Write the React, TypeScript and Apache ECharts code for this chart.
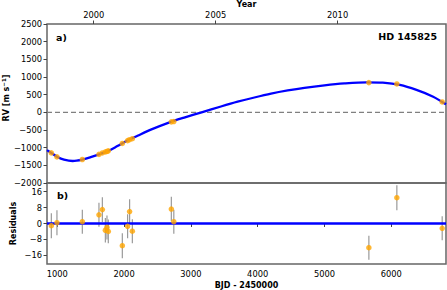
import React, { useEffect, useRef } from "react";
import * as echarts from "echarts";

// RV data (BJD - 2450000, m/s)
const obsDays = [910, 994, 1374, 1623, 1674, 1719, 1743, 1763, 1973, 2052, 2082, 2123, 2707, 2744, 5665, 6084, 6763];
const rvValues = [-1148, -1261, -1335, -1190, -1150, -1120, -1108, -1090, -880, -800, -775, -745, -270, -262, 841, 804, 293];
const residValues = [-1.1, 0.4, 0.9, 4.4, 7.0, -3.4, -2.0, -4.0, -11.2, -1.4, 6.0, -3.9, 7.3, 0.9, -12.2, 13.0, -2.4];
const residErrors = [6.3, 6.3, 6.0, 6.0, 6.2, 6.2, 6.0, 6.0, 6.3, 6.0, 6.2, 6.0, 6.2, 6.0, 6.0, 6.3, 6.0];

// Fitted curve
const curveDays = [845, 910, 1000, 1100, 1230, 1374, 1500, 1623, 1760, 1900, 2050, 2200, 2400, 2700, 2900, 3160, 3450, 3700, 3950, 4200, 4450, 4700, 5000, 5300, 5632, 5874, 6129, 6378, 6628, 6763, 6820];
const curveRV = [-1070, -1150, -1262, -1340, -1378, -1338, -1268, -1190, -1095, -955, -800, -665, -490, -268, -148, 0, 165, 300, 420, 530, 620, 695, 765, 818, 850, 840, 776, 634, 443, 293, 227];

const xTicks = [1000, 2000, 3000, 4000, 5000, 6000];
const yearTicks = [2000, 2005, 2010];
const residTicks = [-16, -8, 0, 8, 16];

const X_MIN = 845;
const X_MAX = 6820;
const FONT = "DejaVu Sans";

const yearToDay = (y: number) => (y - 2000) * 365.25 + 1544.5;
const minus = (v: number) => String(v).replace("-", "\u2212");

export default function App() {
  const ref = useRef<HTMLDivElement>(null);
  useEffect(() => {
    if (!ref.current) return;
    const chart = echarts.init(ref.current, null, { renderer: "svg" });
    const axisLine = { show: false };
    const tickStyle = { show: true, inside: false, length: 3.5, lineStyle: { color: "#444", width: 1 } };
    const labelStyle = { fontFamily: FONT, fontSize: 8.3, color: "#000" };
    const nameStyle = { fontFamily: FONT, fontSize: 8, fontWeight: "bold", color: "#000" };
    const nameFill = { fontFamily: FONT, fontSize: 8, fontWeight: "bold", fill: "#000" };
    const yearDays = yearTicks.map(yearToDay);
    chart.setOption({
      animation: false,
      grid: [
        { left: 47, top: 24, width: 399, height: 159, show: true, borderColor: "#666", borderWidth: 1.5, containLabel: false, outerBoundsMode: "none" },
        { left: 47, top: 183, width: 399, height: 81, show: true, borderColor: "#666", borderWidth: 1.5, containLabel: false, outerBoundsMode: "none" },
      ],
      xAxis: [
        {
          type: "value", gridIndex: 0, min: X_MIN, max: X_MAX, position: "bottom",
          axisLine, axisTick: { show: false }, axisLabel: { show: false }, splitLine: { show: false },
        },
        {
          type: "value", gridIndex: 0, min: X_MIN, max: X_MAX, position: "top",
          axisLine,
          axisTick: { ...tickStyle, customValues: yearDays },
          axisLabel: {
            ...labelStyle, margin: 5.5, customValues: yearDays,
            formatter: (v: number) => String(yearTicks[yearDays.findIndex((d) => Math.abs(d - v) < 1)] ?? ""),
          },
          splitLine: { show: false },
        },
        {
          type: "value", gridIndex: 1, min: X_MIN, max: X_MAX, position: "bottom",
          name: "BJD - 2450000", nameLocation: "middle", nameGap: 17,
          nameTextStyle: nameStyle,
          axisLine,
          axisTick: { ...tickStyle, customValues: xTicks },
          axisLabel: { ...labelStyle, margin: 6, customValues: xTicks, formatter: (v: number) => String(v) },
          splitLine: { show: false },
        },
      ],
      yAxis: [
        {
          type: "value", gridIndex: 0, min: -2000, max: 2500, interval: 500,
          axisLine, axisTick: tickStyle,
          axisLabel: { ...labelStyle, margin: 5, formatter: (v: number) => minus(v) },
          splitLine: { show: false },
        },
        {
          type: "value", gridIndex: 1, min: -20.4, max: 20.4,
          axisLine,
          axisTick: { ...tickStyle, customValues: residTicks },
          axisLabel: { ...labelStyle, margin: 5, customValues: residTicks, formatter: (v: number) => minus(Math.round(v)) },
          splitLine: { show: false },
        },
      ],
      series: [
        {
          type: "line", xAxisIndex: 0, yAxisIndex: 0, silent: true,
          data: [[X_MIN, 0], [X_MAX, 0]], showSymbol: false,
          lineStyle: { color: "#808080", width: 1.3, type: [5, 3] }, z: 1,
        },
        {
          type: "line", xAxisIndex: 0, yAxisIndex: 0, smooth: 0.3,
          data: curveDays.map((d, i) => [d, curveRV[i]]), showSymbol: false,
          lineStyle: { color: "#0000ff", width: 2.3 }, z: 2,
        },
        {
          type: "scatter", xAxisIndex: 0, yAxisIndex: 0,
          data: obsDays.map((d, i) => [d, rvValues[i]]),
          symbolSize: 5.5, itemStyle: { color: "#ffa500" }, z: 3,
        },
        {
          type: "line", xAxisIndex: 2, yAxisIndex: 1,
          data: [[X_MIN, 0], [X_MAX, 0]], showSymbol: false,
          lineStyle: { color: "#0000ff", width: 2.3 }, z: 3,
        },
        {
          type: "custom", xAxisIndex: 2, yAxisIndex: 1, z: 2,
          data: obsDays.map((d, i) => [d, residValues[i] - residErrors[i], residValues[i] + residErrors[i]]),
          renderItem: (params: any, api: any) => {
            const p1 = api.coord([api.value(0), api.value(1)]);
            const p2 = api.coord([api.value(0), api.value(2)]);
            return {
              type: "line",
              shape: { x1: p1[0], y1: p1[1], x2: p2[0], y2: p2[1] },
              style: { stroke: "#9a9a9a", lineWidth: 1.2 },
            };
          },
        },
        {
          type: "scatter", xAxisIndex: 2, yAxisIndex: 1,
          data: obsDays.map((d, i) => [d, residValues[i]]),
          symbolSize: 5.5, itemStyle: { color: "#ffa500" }, z: 4,
        },
      ],
      graphic: [
        { type: "text", x: 246.5, y: 4.5, style: { ...nameFill, text: "Year", align: "center", verticalAlign: "middle" } },
        {
          type: "text", x: 6, y: 98, rotation: Math.PI / 2,
          style: {
            text: "{a|RV [m s}{b|\u22121}{a|]}", align: "center", verticalAlign: "middle",
            rich: {
              a: { ...nameStyle },
              b: { fontFamily: FONT, fontSize: 5.5, fontWeight: "bold", fill: "#000", verticalAlign: "top", padding: [0, 0, 4, 0] },
            },
          },
        },
        { type: "text", x: 13, y: 223.5, rotation: Math.PI / 2, style: { ...nameFill, text: "Residuals", align: "center", verticalAlign: "middle" } },
        { type: "text", left: 56, top: 32, style: { text: "a)", fontFamily: FONT, fontSize: 9.5, fontWeight: "bold", fill: "#000" } },
        { type: "text", left: 57, top: 190, style: { text: "b)", fontFamily: FONT, fontSize: 9.5, fontWeight: "bold", fill: "#000" } },
        { type: "text", right: 10, top: 31, style: { text: "HD 145825", fontFamily: FONT, fontSize: 9.5, fontWeight: "bold", fill: "#000" } },
      ],
    });
    return () => chart.dispose();
  }, []);
  return <div ref={ref} style={{ width: 447, height: 290, position: "absolute", left: 0, top: 0 }} />;
}
